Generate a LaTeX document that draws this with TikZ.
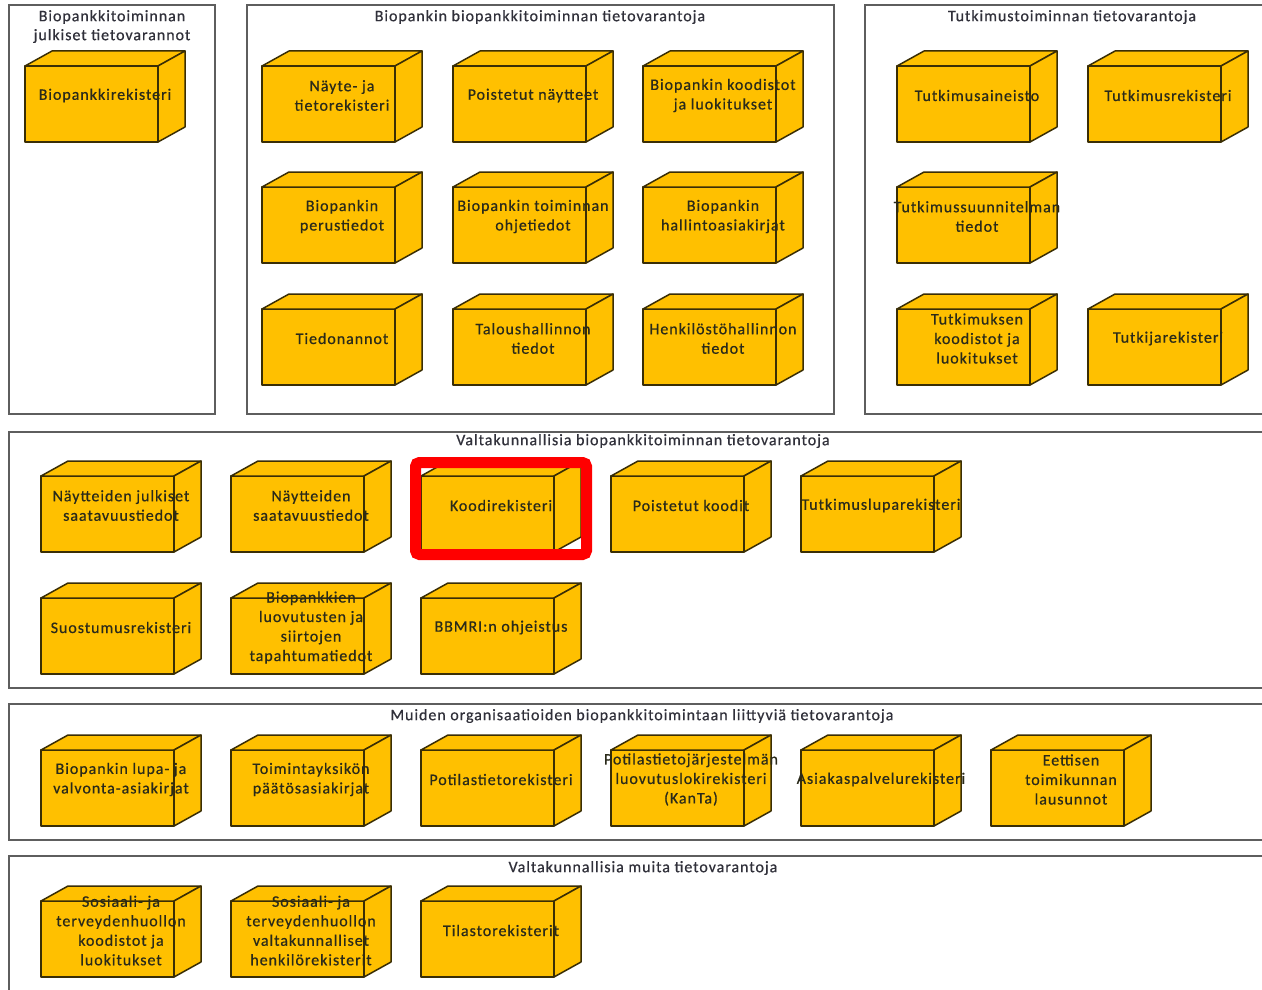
\documentclass[tikz,border=0pt]{standalone}
\usepackage{fontspec}
\setmainfont{Carlito}[LetterSpace=6, FakeBold=0.6]
\definecolor{cubefill}{HTML}{FFC000}
\definecolor{cubeedge}{HTML}{3A2E05}
\definecolor{frameedge}{HTML}{5E5E5E}
\definecolor{txt}{HTML}{2A2A1A}
\definecolor{titletxt}{HTML}{30303A}
\definecolor{hilite}{HTML}{FF0000}
\tikzset{
  cubeface/.style={fill=cubefill, draw=cubeedge, line width=1.5pt, line join=round},
  cubetext/.style={font=\fontsize{16}{19.5}\selectfont, text=txt, align=center, inner sep=0pt},
  container/.style={draw=frameedge, line width=2pt},
  title/.style={font=\fontsize{16}{19}\selectfont, text=titletxt, align=center, inner sep=0pt},
  highlight/.style={draw=hilite, line width=11pt, rounded corners=4pt}
}
\newcommand\cubebox[4]{%
  \path[cubeface] (#2,#3) rectangle ++(133,76);
  \path[cubeface] (#2,#3) -- ++(27,-15) -- ++(133,0) -- ++(-27,15) -- cycle;
  \path[cubeface] (#2+133,#3) -- ++(27,-15) -- ++(0,76) -- ++(-27,15) -- cycle;
  \node[cubetext] (#1) at (#2+80,#3+29.5) {#4};
}
\begin{document}
\begin{tikzpicture}[x=1pt,y=-1pt]
\useasboundingbox (0,0) rectangle (1262,990);
\fill[white] (0,0) rectangle (1262,990);
\clip (0,0) rectangle (1262,990);
% containers
\draw[container] (9,5) rectangle (215,414);
\draw[container] (247,5) rectangle (834,414);
\draw[container] (865,5) rectangle (1279,414);
\draw[container] (9,432) rectangle (1277,688);
\draw[container] (9,704) rectangle (1277,840);
\draw[container] (9,856) rectangle (1277,1010);
% titles
\node[title] (tA) at (112,26.5) {Biopankkitoiminnan\\julkiset tietovarannot};
\node[title] (tB) at (540,17) {Biopankin biopankkitoiminnan tietovarantoja};
\node[title] (tC) at (1072,17) {Tutkimustoiminnan tietovarantoja};
\node[title] (t2) at (643,441) {Valtakunnallisia biopankkitoiminnan tietovarantoja};
\node[title] (t3) at (642,716) {Muiden organisaatioiden biopankkitoimintaan liittyviä tietovarantoja};
\node[title] (t4) at (643,868) {Valtakunnallisia muita tietovarantoja};
% box A
\cubebox{a1}{25}{66}{Biopankkirekisteri}
% box B
\cubebox{b11}{262}{66}{Näyte- ja\\tietorekisteri}
\cubebox{b12}{453}{66}{Poistetut näytteet}
\cubebox{b13}{643}{66}{Biopankin koodistot\\ja luokitukset}
\cubebox{b21}{262}{187}{Biopankin\\perustiedot}
\cubebox{b22}{453}{187}{Biopankin toiminnan\\ohjetiedot}
\cubebox{b23}{643}{187}{Biopankin\\hallintoasiakirjat}
\cubebox{b31}{262}{309}{Tiedonannot}
\cubebox{b32}{453}{309}{Taloushallinnon\\tiedot}
\cubebox{b33}{643}{309}{Henkilöstöhallinnon\\tiedot}
% box C
\cubebox{c11}{897}{66}{Tutkimusaineisto}
\cubebox{c12}{1088}{66}{Tutkimusrekisteri}
\cubebox{c21}{897}{187}{Tutkimussuunnitelman\\tiedot}
\cubebox{c31}{897}{309}{Tutkimuksen\\koodistot ja\\luokitukset}
\cubebox{c32}{1088}{309}{Tutkijarekisteri}
% row 2
\cubebox{r21}{41}{476}{Näytteiden julkiset\\saatavuustiedot}
\cubebox{r22}{231}{476}{Näytteiden\\saatavuustiedot}
\cubebox{r23}{421}{476}{Koodirekisteri}
\cubebox{r24}{611}{476}{Poistetut koodit}
\cubebox{r25}{801}{476}{Tutkimusluparekisteri}
\cubebox{r26}{41}{598}{Suostumusrekisteri}
\cubebox{r27}{231}{598}{Biopankkien\\luovutusten ja\\siirtojen\\tapahtumatiedot}
\cubebox{r28}{421}{598}{BBMRI:n ohjeistus}
% row 3
\cubebox{r31}{41}{750}{Biopankin lupa- ja\\valvonta-asiakirjat}
\cubebox{r32}{231}{750}{Toimintayksikön\\päätösasiakirjat}
\cubebox{r33}{421}{750}{Potilastietorekisteri}
\cubebox{r34}{611}{750}{Potilastietojärjestelmän\\luovutuslokirekisteri\\(KanTa)}
\cubebox{r35}{801}{750}{Asiakaspalvelurekisteri}
\cubebox{r36}{991}{750}{Eettisen\\toimikunnan\\lausunnot}
% row 4
\cubebox{r41}{41}{901}{Sosiaali- ja\\terveydenhuollon\\koodistot ja\\luokitukset}
\cubebox{r42}{231}{901}{Sosiaali- ja\\terveydenhuollon\\valtakunnalliset\\henkilörekisterit}
\cubebox{r43}{421}{901}{Tilastorekisterit}
% highlight
\draw[highlight] (415.5,462.5) rectangle (586.5,554.5);
\end{tikzpicture}
\end{document}
